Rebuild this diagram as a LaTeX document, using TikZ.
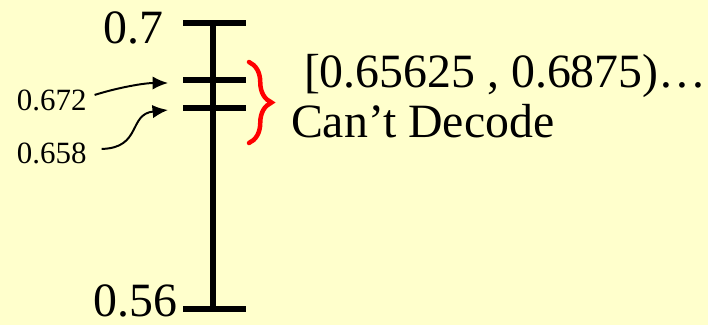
\documentclass[tikz,border=0pt]{standalone}
\usepackage{fontspec}
\setmainfont{Liberation Serif}
\usetikzlibrary{arrows.meta, decorations.pathreplacing}
\definecolor{slidebg}{HTML}{FFFFCC}
\definecolor{bracered}{HTML}{FF0000}

\begin{document}
\begin{tikzpicture}[
    x=0.025cm, y=-0.025cm,
    every node/.style={inner sep=0pt, outer sep=0pt},
    axis/.style={line width=4.3pt, draw=black},
    tick/.style={line width=4.6pt, draw=black},
    biglabel/.style={font=\fontsize{34}{40}\selectfont},
    smalllabel/.style={font=\fontsize{22}{26}\selectfont},
    pointer/.style={-{Latex[length=11pt, width=9.5pt]}, line width=1.4pt},
    bracket/.style={draw=bracered, line width=3.2pt, line cap=round,
        decorate, decoration={brace, amplitude=16pt}}
]
\useasboundingbox[fill=slidebg] (0,0) rectangle (708,325);

% interval axis
\coordinate (t70)  at (213,23);
\coordinate (t672) at (213,80);
\coordinate (t658) at (213,108);
\coordinate (t56)  at (213,309);
\draw[axis] (t70) -- (t56);
\foreach \name in {t70, t672, t658, t56}
    \draw[tick] (\name) ++(-30,0) -- ++(63,0);

\node[biglabel, anchor=base east] (l70) at (163,43)  {0.7};
\node[biglabel, anchor=base east] (l56) at (177,316) {0.56};

% sub-interval pointers
\node[smalllabel, anchor=base west] (l672) at (17,110) {0.672};
\node[smalllabel, anchor=base west] (l658) at (17,163) {0.658};
\coordinate (p672) at (168,83);
\coordinate (p658) at (168,110);
\draw[pointer] ([shift={(8,-5)}]l672.east) .. controls (120,87) and (145,83) .. (p672);
\draw[pointer] ([shift={(15,-4)}]l658.east) .. controls (142,148) and (128,114) .. (p658);

% result
\draw[bracket] (249,62) -- (249,143);
\node[biglabel, anchor=base west] (range) at (304,87)  {[0.65625 , 0.6875)…};
\node[biglabel, anchor=base west] (cant)  at (291,137) {Can’t Decode};

\end{tikzpicture}
\end{document}
